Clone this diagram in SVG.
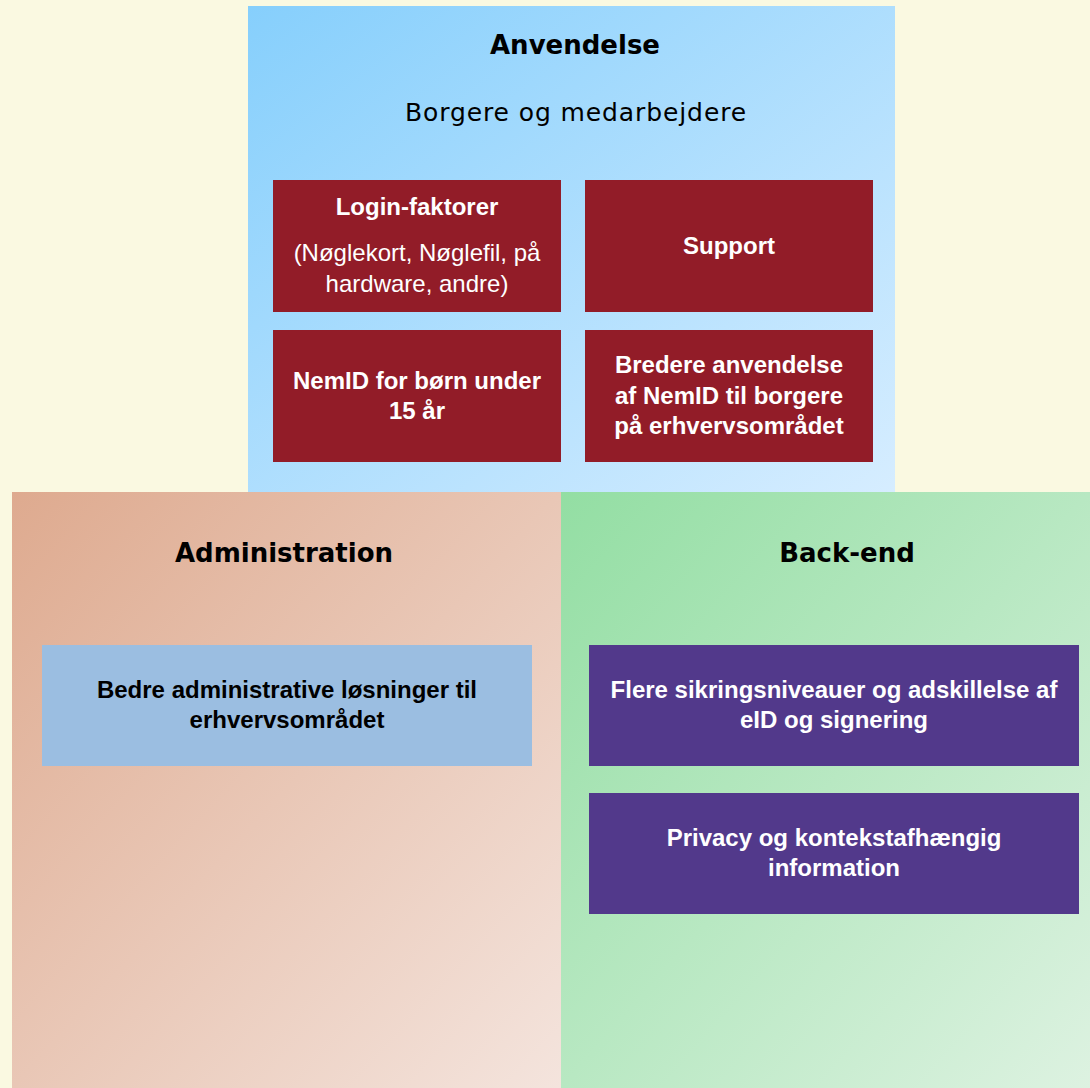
<svg xmlns="http://www.w3.org/2000/svg" width="1090" height="1088" viewBox="0 0 1090 1088">
  <defs>
    <linearGradient id="gTop" x1="0" y1="0" x2="1" y2="1">
      <stop offset="0" stop-color="#86CFFC"/>
      <stop offset="1" stop-color="#D6EDFF"/>
    </linearGradient>
    <linearGradient id="gLeft" x1="0" y1="0" x2="1" y2="1">
      <stop offset="0" stop-color="#DEAA8F"/>
      <stop offset="1" stop-color="#F4E4DD"/>
    </linearGradient>
    <linearGradient id="gRight" x1="0" y1="0" x2="1" y2="1">
      <stop offset="0" stop-color="#93DEA3"/>
      <stop offset="1" stop-color="#DDF2E1"/>
    </linearGradient>
  </defs>
  <style>
    .title { font-family: "DejaVu Sans", Verdana, sans-serif; font-weight: bold; font-size: 26px; fill: #000; text-anchor: middle; }
    .sub { font-family: "DejaVu Sans", Verdana, sans-serif; font-size: 25px; letter-spacing: 0.9px; fill: #000; text-anchor: middle; }
    .bt { font-family: "Liberation Sans", Arial, sans-serif; font-weight: bold; font-size: 24px; text-anchor: middle; }
    .br { font-family: "Liberation Sans", Arial, sans-serif; font-size: 24px; text-anchor: middle; }
    .red { fill: #921C28; }
    .purple { fill: #52398B; }
    .lblue { fill: #9BBEE1; }
    .w { fill: #FFFFFF; }
    .k { fill: #000000; }
  </style>
  <rect x="0" y="0" width="1090" height="1088" fill="#FAF9E1"/>

  <g id="panel-anvendelse">
    <rect x="248" y="6" width="647" height="486" fill="url(#gTop)"/>
    <text class="title" x="575" y="54">Anvendelse</text>
    <text class="sub" x="576" y="121">Borgere og medarbejdere</text>
  </g>
  <g id="panel-administration">
    <rect x="12" y="492" width="549" height="596" fill="url(#gLeft)"/>
    <text class="title" x="284" y="562">Administration</text>
  </g>
  <g id="panel-backend">
    <rect x="561" y="492" width="529" height="596" fill="url(#gRight)"/>
    <text class="title" x="847" y="562">Back-end</text>
  </g>

  <g id="node-login">
    <rect class="red" x="273" y="180" width="288" height="132"/>
    <text class="bt w" x="417" y="215">Login-faktorer</text>
    <text class="br w" x="417" y="261">(Nøglekort, Nøglefil, på</text>
    <text class="br w" x="417" y="292">hardware, andre)</text>
  </g>
  <g id="node-support">
    <rect class="red" x="585" y="180" width="288" height="132"/>
    <text class="bt w" x="729" y="254">Support</text>
  </g>
  <g id="node-nemid-boern">
    <rect class="red" x="273" y="330" width="288" height="132"/>
    <text class="bt w" x="417" y="389">NemID for børn under</text>
    <text class="bt w" x="417" y="419">15 år</text>
  </g>
  <g id="node-bredere">
    <rect class="red" x="585" y="330" width="288" height="132"/>
    <text class="bt w" x="729" y="373">Bredere anvendelse</text>
    <text class="bt w" x="729" y="404">af NemID til borgere</text>
    <text class="bt w" x="729" y="434">på erhvervsområdet</text>
  </g>
  <g id="node-bedre-admin">
    <rect class="lblue" x="42" y="645" width="490" height="121"/>
    <text class="bt k" x="287" y="698">Bedre administrative løsninger til</text>
    <text class="bt k" x="287" y="728">erhvervsområdet</text>
  </g>
  <g id="node-sikring">
    <rect class="purple" x="589" y="645" width="490" height="121"/>
    <text class="bt w" x="834" y="698">Flere sikringsniveauer og adskillelse af</text>
    <text class="bt w" x="834" y="728">eID og signering</text>
  </g>
  <g id="node-privacy">
    <rect class="purple" x="589" y="793" width="490" height="121"/>
    <text class="bt w" x="834" y="846">Privacy og kontekstafhængig</text>
    <text class="bt w" x="834" y="876">information</text>
  </g>
  <g id="connectors"/>
</svg>
